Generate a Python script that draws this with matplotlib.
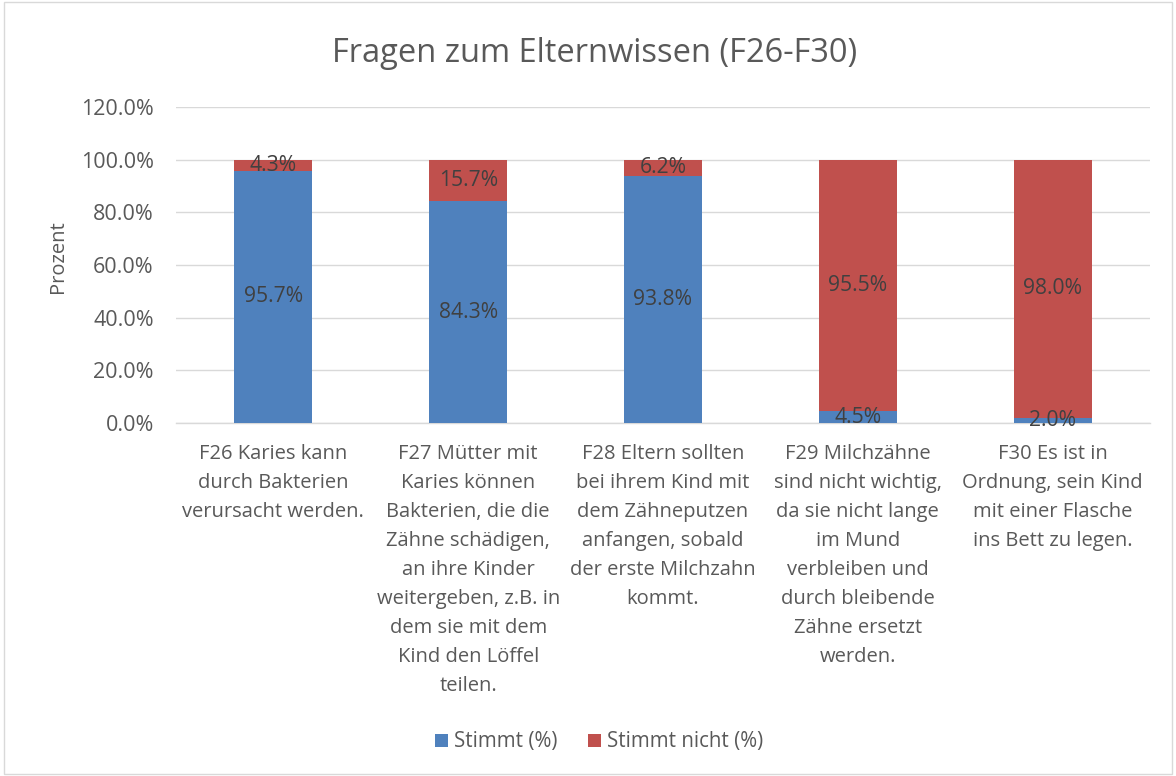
import matplotlib
matplotlib.use("Agg")
import matplotlib.pyplot as plt
from matplotlib.patches import Rectangle
import numpy as np

plt.rcParams['font.family'] = ['Open Sans', 'DejaVu Sans']

categories = [
    "F26 Karies kann\ndurch Bakterien\nverursacht werden.",
    "F27 Mütter mit\nKaries können\nBakterien, die die\nZähne schädigen,\nan ihre Kinder\nweitergeben, z.B. in\ndem sie mit dem\nKind den Löffel\nteilen.",
    "F28 Eltern sollten\nbei ihrem Kind mit\ndem Zähneputzen\nanfangen, sobald\nder erste Milchzahn\nkommt.",
    "F29 Milchzähne\nsind nicht wichtig,\nda sie nicht lange\nim Mund\nverbleiben und\ndurch bleibende\nZähne ersetzt\nwerden.",
    "F30 Es ist in\nOrdnung, sein Kind\nmit einer Flasche\nins Bett zu legen.",
]
stimmt = [95.7, 84.3, 93.8, 4.5, 2.0]
stimmt_nicht = [4.3, 15.7, 6.2, 95.5, 98.0]
series_names = ["Stimmt (%)", "Stimmt nicht (%)"]
yticks = [0, 20, 40, 60, 80, 100, 120]

blue = "#4F81BD"
red = "#C0504D"
txt = "#595959"
dark = "#404040"

fig = plt.figure(figsize=(11.76, 7.76), dpi=100)
fig.patches.append(Rectangle((0.003, 0.003), 0.994, 0.994, transform=fig.transFigure,
                             fill=False, edgecolor="#D9D9D9", linewidth=1.0))
ax = fig.add_axes([176/1176, 1-423/776, (1150-176)/1176, (423-107)/776])

x = np.arange(len(categories))
w = 0.4
b1 = ax.bar(x, stimmt, w, color=blue, label=series_names[0], zorder=3)
b2 = ax.bar(x, stimmt_nicht, w, bottom=stimmt, color=red, label=series_names[1], zorder=3)

for i in range(len(x)):
    ax.text(x[i], stimmt[i]/2, f"{stimmt[i]:.1f}%", ha="center", va="center",
            fontsize=15.2, color=dark, zorder=4)
    ax.text(x[i], stimmt[i] + stimmt_nicht[i]/2, f"{stimmt_nicht[i]:.1f}%", ha="center",
            va="center", fontsize=15.2, color=dark, zorder=4)

ax.set_xlim(-0.5, len(x)-0.5)
ax.set_ylim(0, 120)
ax.set_yticks(yticks)
ax.set_yticklabels([f"{v:.1f}%" for v in yticks], fontsize=15.5, color=txt)
ax.set_xticks(x)
ax.set_xticklabels(categories, fontsize=14.5, color=txt, linespacing=1.6, va="top")
ax.tick_params(axis="both", length=0)
ax.tick_params(axis="x", pad=15)
ax.tick_params(axis="y", pad=16)
ax.yaxis.grid(True, color="#D9D9D9", linewidth=1, zorder=0)
for s in ["top", "right", "left"]:
    ax.spines[s].set_visible(False)
ax.spines["bottom"].set_color("#D9D9D9")
ax.spines["bottom"].set_linewidth(1)

fig.text(58/1176, 1-257/776, "Prozent", rotation=90, ha="center", va="center",
         fontsize=14.5, color=txt)
fig.text(595/1176, 1-54/776, "Fragen zum Elternwissen (F26-F30)", ha="center", va="center",
         fontsize=23.5, color=txt)

fig.legend(handles=[b1, b2], labels=series_names, loc="center", bbox_to_anchor=(599/1176, 1-742/776),
           ncol=2, frameon=False, fontsize=14.8, handlelength=0.62, handleheight=0.62,
           columnspacing=1.5, handletextpad=0.3, labelcolor=txt)

fig.savefig("out.png", dpi=100)
